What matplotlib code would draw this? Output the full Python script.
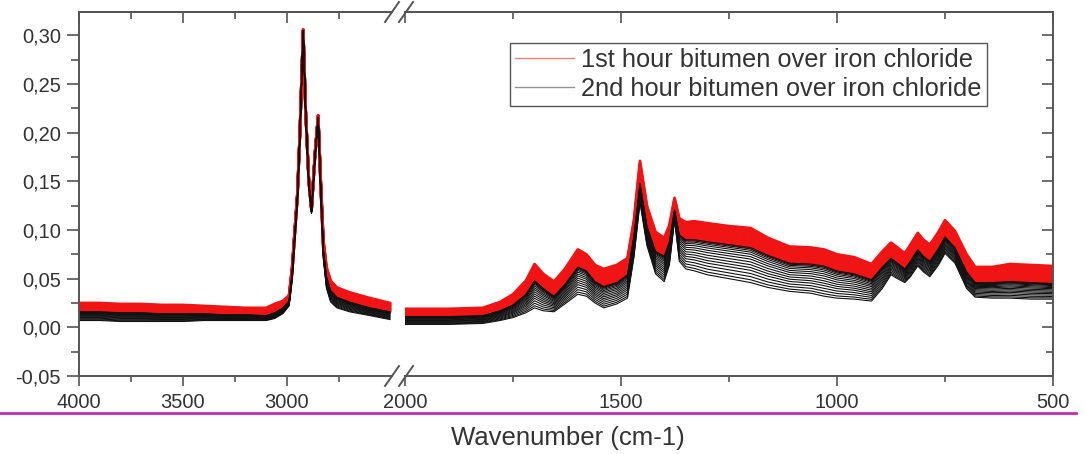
import numpy as np
import matplotlib
matplotlib.use("Agg")
import matplotlib.pyplot as plt
from matplotlib.lines import Line2D
from matplotlib.ticker import MultipleLocator, FixedLocator, FuncFormatter, NullFormatter

plt.rcParams['font.family'] = ['Liberation Sans', 'DejaVu Sans']

# ---- C-H stretching window (4000 - 2500 cm-1) ----
wn_ch = [4000, 3900, 3800, 3700, 3600, 3500, 3400, 3300, 3200, 3100, 3060, 3020,
         2990, 2975, 2962, 2950, 2938, 2922, 2910, 2895, 2882, 2865, 2850, 2838,
         2825, 2810, 2790, 2760, 2700, 2600, 2505]
hour1_first_ch = [.025, .025, .024, .024, .023, .023, .022, .021, .020, .020, .024, .027,
                  .033, .062, .102, .137, .200, .306, .222, .152, .122, .180, .218, .152,
                  .090, .062, .048, .041, .036, .030, .025]
hour1_last_ch = [.016, .016, .015, .015, .014, .014, .014, .013, .013, .012, .015, .020,
                 .027, .056, .097, .133, .197, .305, .220, .149, .120, .177, .216, .146,
                 .080, .052, .038, .031, .026, .020, .016]
hour2_last_ch = [.007, .007, .006, .006, .006, .006, .007, .007, .007, .007, .009, .014,
                 .022, .050, .092, .128, .194, .304, .218, .146, .117, .174, .214, .140,
                 .070, .040, .026, .020, .016, .012, .008]

# ---- fingerprint window (2000 - 500 cm-1) ----
wn_fp = [2000, 1900, 1820, 1780, 1750, 1720, 1700, 1680, 1655, 1630,
         1600, 1580, 1560, 1540, 1510, 1485, 1470, 1456, 1440, 1420,
         1400, 1388, 1376, 1365, 1350, 1330, 1300, 1250, 1200, 1160,
         1110, 1060, 1030, 1000, 960, 920, 895, 875, 860, 843,
         830, 813, 800, 785, 765, 750, 727, 700, 680, 640,
         600, 550, 500]
hour1_first_fp = [.019, .019, .020, .026, .034, .048, .065, .055, .047, .060,
                  .080, .075, .064, .060, .064, .071, .110, .171, .125, .098,
                  .092, .105, .133, .112, .108, .109, .107, .104, .102, .092,
                  .083, .082, .080, .075, .072, .065, .078, .087, .082, .076,
                  .085, .097, .090, .085, .098, .110, .099, .075, .062, .062,
                  .065, .064, .063]
hour1_last_fp = [.011, .011, .012, .017, .023, .034, .048, .040, .032, .044,
                 .062, .058, .047, .042, .046, .054, .094, .148, .104, .078,
                 .073, .088, .121, .095, .090, .090, .088, .085, .082, .074,
                 .066, .065, .063, .058, .055, .049, .062, .071, .066, .060,
                 .068, .080, .073, .068, .081, .093, .082, .057, .046, .046,
                 .047, .046, .045]
hour2_last_fp = [.003, .003, .004, .007, .010, .015, .020, .017, .016, .024,
                 .034, .032, .025, .020, .024, .030, .072, .128, .084, .055,
                 .047, .064, .110, .068, .060, .058, .054, .050, .046, .041,
                 .037, .035, .032, .030, .029, .027, .040, .054, .050, .046,
                 .052, .063, .057, .052, .064, .076, .066, .040, .031, .030,
                 .030, .029, .029]

# position of each successive scan between the first and last spectrum of its hour
hour1_steps = [0.0, 0.11, 0.22, 0.33, 0.44, 0.55, 0.66, 0.77, 0.88, 1.0]
hour2_steps = [0.0, 0.04, 0.08, 0.13, 0.19, 0.26, 0.33, 0.41, 0.49, 0.57, 0.65, 0.74,
               0.83, 0.92, 1.0]

legend_labels = ["1st hour bitumen over iron chloride", "2nd hour bitumen over iron chloride"]

RED = '#f01414'
BLACK = '#111111'
AXC = '#555555'
TXT = '#333333'

W, H = 1086, 454
fig = plt.figure(figsize=(W / 100, H / 100), dpi=100)

left_px, bottom_px, top_px = 79, 376, 12
ax1 = fig.add_axes([left_px / W, 1 - bottom_px / H, 313 / W, (bottom_px - top_px) / H])
ax2 = fig.add_axes([405 / W, 1 - bottom_px / H, 648 / W, (bottom_px - top_px) / H])


def draw_scans(ax, wn, first, last, steps, color, lw):
    first = np.asarray(first)
    last = np.asarray(last)
    for s in steps:
        ax.plot(wn, first + s * (last - first), color=color, lw=lw, solid_joinstyle='round')


for ax, wn, f1, l1, l2 in [(ax1, wn_ch, hour1_first_ch, hour1_last_ch, hour2_last_ch),
                           (ax2, wn_fp, hour1_first_fp, hour1_last_fp, hour2_last_fp)]:
    draw_scans(ax, wn, f1, l1, hour1_steps, RED, 2.0)
    draw_scans(ax, wn, l1, l2, hour2_steps, BLACK, 0.8)

ax1.set_xlim(4000, 2495)
ax2.set_xlim(2000, 500)
for ax in (ax1, ax2):
    ax.set_ylim(-0.05, 0.324)
    ax.yaxis.set_major_locator(MultipleLocator(0.05))
    ax.yaxis.set_minor_locator(MultipleLocator(0.025))
    for sp in ax.spines.values():
        sp.set_color(AXC)
        sp.set_linewidth(1.4)
    ax.tick_params(axis='x', which='both', direction='out', colors=AXC, labelcolor=TXT,
                   labelsize=14.5, width=1.2, pad=5)
    ax.tick_params(axis='x', which='major', length=7)
    ax.tick_params(axis='x', which='minor', length=4)

ax1.spines['right'].set_visible(False)
ax2.spines['left'].set_visible(False)

ax1.xaxis.set_major_locator(FixedLocator([4000, 3500, 3000]))
ax1.xaxis.set_minor_locator(FixedLocator([3750, 3250, 2750]))
ax2.xaxis.set_major_locator(FixedLocator([2000, 1500, 1000, 500]))
ax2.xaxis.set_minor_locator(FixedLocator([1750, 1250, 750]))


def comma_fmt(v, _):
    if abs(v) < 1e-9:
        v = 0.0
    return f"{v:.2f}".replace('.', ',')


ax1.yaxis.set_major_formatter(FuncFormatter(comma_fmt))
ax1.tick_params(axis='y', which='both', direction='out', colors=AXC, labelcolor=TXT,
                labelsize=14.5, width=1.2, pad=4)
ax1.tick_params(axis='y', which='major', length=9)
ax1.tick_params(axis='y', which='minor', length=6)

ax2.yaxis.tick_right()
ax2.tick_params(axis='y', which='both', direction='in', colors=AXC, labelright=False,
                labelleft=False, width=1.2)
ax2.tick_params(axis='y', which='major', length=8)
ax2.tick_params(axis='y', which='minor', length=5)

# inward ticks along the top edge
for ax, maj, mnr in [(ax1, [4000, 3500, 3000], [3750, 3250, 2750]),
                     (ax2, [2000, 1500, 1000, 500], [1750, 1250, 750])]:
    top = ax.secondary_xaxis('top')
    top.xaxis.set_major_locator(FixedLocator(maj))
    top.xaxis.set_minor_locator(FixedLocator(mnr))
    top.xaxis.set_major_formatter(NullFormatter())
    top.tick_params(axis='x', which='both', direction='in', colors=AXC, width=1.2)
    top.tick_params(axis='x', which='major', length=8)
    top.tick_params(axis='x', which='minor', length=5)
    top.spines['top'].set_color(AXC)
    top.spines['top'].set_linewidth(1.4)

# axis-break marks
for cx in (392, 406):
    for cy in (top_px, bottom_px):
        fig.add_artist(Line2D([(cx - 7) / W, (cx + 7) / W],
                              [1 - (cy + 10) / H, 1 - (cy - 10) / H],
                              color=AXC, lw=1.4, transform=fig.transFigure))

handles = [Line2D([], [], color=RED, lw=1.0, alpha=0.55),
           Line2D([], [], color=BLACK, lw=1.0, alpha=0.45)]
fig.legend(handles, legend_labels, loc='upper left', bbox_to_anchor=(510 / W, 1 - 43 / H),
           bbox_transform=fig.transFigure, frameon=True, fancybox=False, shadow=False,
           edgecolor=AXC, fontsize=18.3, handlelength=2.3, handletextpad=0.3,
           labelspacing=0.2, borderpad=0.2, borderaxespad=0, labelcolor=TXT,
           framealpha=1)

# separator rule and axis title
fig.add_artist(Line2D([0, 1076 / W], [1 - 413 / H, 1 - 413 / H], color='#c02cb4', lw=2,
                      transform=fig.transFigure))
fig.text(568 / W, 1 - 438 / H, 'Wavenumber (cm-1)', ha='center', va='center',
         fontsize=18.5, color=TXT)

fig.savefig('out.png', dpi=100)
